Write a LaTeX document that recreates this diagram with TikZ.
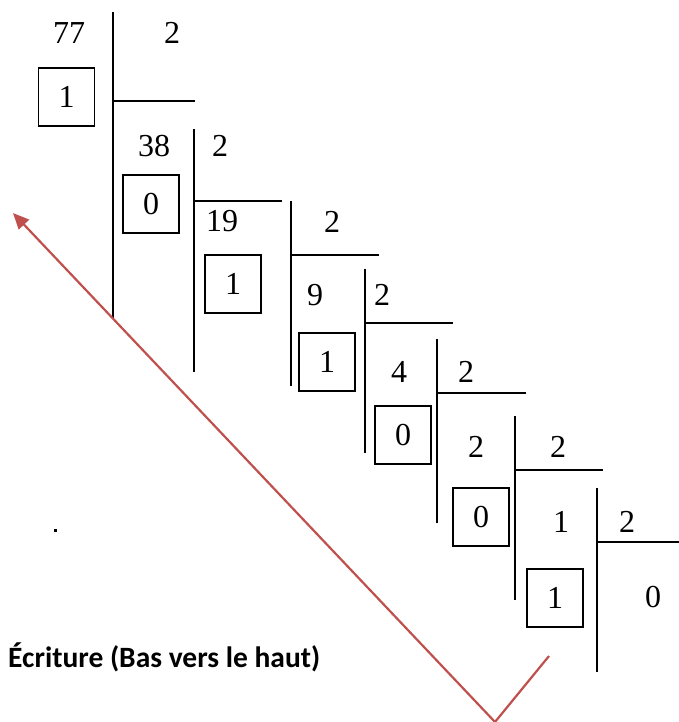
\documentclass[tikz,border=0pt]{standalone}
\usepackage{fontspec}
\setmainfont{Liberation Serif}
\newfontfamily\labelfont{Carlito}
\usetikzlibrary{arrows.meta}
\definecolor{arrowred}{RGB}{192,80,77}
\begin{document}
\begin{tikzpicture}[x=1pt,y=-1pt,
  num/.style={inner sep=0pt,font=\fontsize{32}{38}\selectfont},
  rembox/.style={draw,line width=1.6pt,minimum width=56pt,minimum height=58pt,inner sep=0pt,font=\fontsize{32}{38}\selectfont},
  rule/.style={line width=2.2pt},
  pathline/.style={draw=arrowred,line width=2.2pt}]
\useasboundingbox (0,0) rectangle (679,722);

% successive divisions by 2: vertical and horizontal rules
\draw[rule] (113,12) -- (113,318);  \draw[rule] (113,101) -- (195,101);
\draw[rule] (194,129) -- (194,372); \draw[rule] (194,201) -- (282,201);
\draw[rule] (291,201) -- (291,386); \draw[rule] (291,255) -- (379,255);
\draw[rule] (365,269) -- (365,453); \draw[rule] (365,323) -- (453,323);
\draw[rule] (437,339) -- (437,523); \draw[rule] (437,393) -- (526,393);
\draw[rule] (515,416) -- (515,600); \draw[rule] (515,470) -- (603,470);
\draw[rule] (597,488) -- (597,672); \draw[rule] (597,542) -- (679,542);

% dividends and divisors
\node[num] (n77) at (69,33) {77};   \node[num] (d1) at (172,33) {2};
\node[num] (n38) at (154,146) {38}; \node[num] (d2) at (220,146) {2};
\node[num] (n19) at (222,221) {19}; \node[num] (d3) at (332,222) {2};
\node[num] (n9) at (315,295) {9};   \node[num] (d4) at (382,295) {2};
\node[num] (n4) at (399,372) {4};   \node[num] (d5) at (466,372) {2};
\node[num] (n2) at (476,447) {2};   \node[num] (d6) at (558,447) {2};
\node[num] (n1) at (561,522) {1};   \node[num] (d7) at (627,522) {2};
\node[num] (n0) at (653,597) {0};

% boxed remainders
\node[rembox] (r1) at (66.5,97) {1};
\node[rembox] (r2) at (151,204) {0};
\node[rembox] (r3) at (233,284) {1};
\node[rembox] (r4) at (327,362) {1};
\node[rembox] (r5) at (403,435) {0};
\node[rembox] (r6) at (481,517) {0};
\node[rembox] (r7) at (555,598) {1};

% stray dot and reading direction
\fill (53.5,528.5) rectangle (56.5,531.5);
\node[anchor=base west,inner sep=0pt,font=\labelfont\bfseries\fontsize{29.5}{34}\selectfont] (lbl) at (8,667) {Écriture (Bas vers le haut)};

% red reading arrow
\coordinate (vtx) at (495,722);
\coordinate (tail) at (549,656);
\coordinate (tip) at (13,213);
\draw[pathline] (tail) -- (vtx);
\draw[pathline,-{Triangle[length=16pt,width=14pt]}] (vtx) -- (tip);
\end{tikzpicture}
\end{document}
